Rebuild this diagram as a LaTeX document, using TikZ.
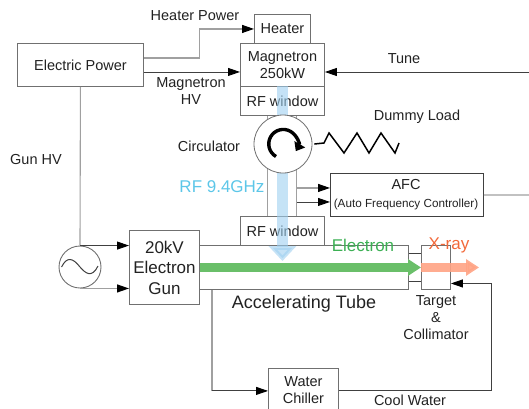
\documentclass[tikz,border=0pt]{standalone}
\usepackage{fontspec}
\setmainfont{Liberation Sans}
\usetikzlibrary{calc,positioning,arrows.meta}
\definecolor{boxgray}{HTML}{707070}
\definecolor{linegray}{HTML}{A0A0A0}
\definecolor{linedark}{HTML}{404040}
\definecolor{textdark}{HTML}{222222}
\definecolor{rfblue}{HTML}{9FD0F0}
\definecolor{rflabel}{HTML}{5CC6E8}
\definecolor{beamgreen}{HTML}{6ABF69}
\definecolor{elabel}{HTML}{3CB054}
\definecolor{raycoral}{HTML}{FFA384}
\definecolor{raylabel}{HTML}{F2693A}
\tikzset{
  block/.style={
    draw=boxgray,
    line width=0.9pt,
    fill=white,
    inner sep=0pt,
    align=center,
    anchor=north west,
    text=textdark,
    font=\fontsize{14.5}{17}\selectfont
  },
  lbl/.style={
    inner sep=0pt,
    align=center,
    text=textdark,
    font=\fontsize{14.5}{17}\selectfont
  },
  darkline/.style={draw=linedark,line width=0.9pt},
  grayline/.style={draw=linegray,line width=1.1pt},
  tip/.style={-{Triangle[length=12pt,width=8pt,color=black]}},
  beam/.style={line width=9pt,-{Triangle[length=13pt,width=16pt]}}
}
\begin{document}
\begin{tikzpicture}[x=1pt,y=-1pt]
		\clip (0,0) rectangle (529,408);
		\node[block,minimum width=126pt,minimum height=43pt] at (17,43) (elecpower) {Electric Power};
		\node[block,minimum width=56pt,minimum height=29pt] at (254,14) (heater) {Heater};
		\node[block,minimum width=84pt,minimum height=43pt] at (240,43) (magnetron) {Magnetron\\ 250kW};
		\node[block,minimum width=84pt,minimum height=29pt] at (240,86) (rfwinup) {RF window};
		\node[block,minimum width=84pt,minimum height=29pt] at (240,216) (rfwinlow) {RF window};
		\node[block,minimum width=209pt,minimum height=44pt] at (199,245) (tube) {};
		\node[block,minimum width=70pt,minimum height=74pt,font=\fontsize{17}{20.5}\selectfont] at (129,230) (gun) {20kV\\ Electron\\ Gun};
		\node[block,minimum width=29pt,minimum height=44pt] at (421,245) (target) {};
		\node[block,draw=linedark,minimum width=153pt,minimum height=43pt] at (330,173) (afc) {};
		\node[inner sep=0pt,text=textdark,font=\fontsize{14.5}{17}\selectfont] at (406,185) (afcname) {AFC};
		\node[inner sep=0pt,text=textdark,font=\fontsize{11.7}{14}\selectfont] at (406,204) (afclong) {(Auto Frequency Controller)};
		\node[block,minimum width=70pt,minimum height=44pt] at (268,368) (chiller) {Water\\ Chiller};
		\node[draw=boxgray,line width=0.9pt,circle,fill=white,minimum size=42pt,inner sep=0pt] at (80,267) (acsrc) {};

		\foreach \x in {-15,14} {
			\draw[grayline] ($(rfwinlow.north)+(\x,0)$) -- ($(rfwinup.south)+(\x,0)$);
		};
		\draw[rfblue,line width=11pt,opacity=0.6,-{Triangle[length=15pt,width=27pt]}] (rfwinup.north) -- ++(0,175) coordinate (rfend);
		\node[draw=boxgray,line width=0.8pt,circle,fill=white,minimum size=58pt,inner sep=0pt] at (283,144) (circ) {};
		\draw[black,line width=3.4pt,-{Triangle[length=8pt,width=12pt]}] ($(circ)+(-7,12.5)$) arc[start angle=120,end angle=390,radius=14.5];

		\draw[beamgreen,beam] (gun.east) -- (target.west);
		\draw[raycoral,opacity=0.9,beam] (target.west) -- ++(58,0) coordinate (rayend);

		\draw[grayline,tip] ($(elecpower.east)+(0,-7)$) -- ++(56,0) |- (heater.west);
		\draw[darkline,tip] ($(elecpower.east)+(0,7)$) -- ($(magnetron.west)+(0,7)$);
		\coordinate (tunein) at (529,72);
		\draw[darkline,tip] (tunein) -- (tunein -| magnetron.east);
		\draw[grayline] (elecpower.south) -- (acsrc.north);
		\draw[darkline,tip] (acsrc.north) -- (acsrc.north -| gun.west);
		\draw[grayline,tip] (acsrc.south) -- (acsrc.south -| gun.west);
		\draw[darkline,line width=1pt] (acsrc.west) ++(3,0) .. controls (67,256) and (73,258) .. (80,267) .. controls (86,274) and (92,278) .. (98,266);
		\foreach \y/\s in {-7/grayline,7/darkline} {
			\draw[\s,tip] ($(afc.west)+(-33,\y)$) -- ($(afc.west)+(0,\y)$);
		};
		\coordinate (afcout) at (529,195);
		\draw[grayline] (afc.east) -- (afcout);
		\foreach \y in {-14,14} {
			\draw[darkline] ($(tube.east)+(0,\y)$) -- ($(target.west)+(0,\y)$);
		};
		\draw[grayline] ($(tube.south west)+(13,0)$) -- ++(0,101) coordinate (chillerin);
		\draw[darkline,tip] (chillerin) -- (chillerin -| chiller.west);
		\draw[darkline,tip] (chiller.east) -- ++(153,0) |- ($(target.east)+(0,16)$);

		\draw[black,line width=1.5pt] ($(circ.east)+(2,0)$) -- (324,143) -- (329,133) -- (344,153) -- (357,133) -- (369,153) -- (381,133) -- (395,153) -- (399,143);

		\node[lbl] at (195,16) (heaterpw) {Heater Power};
		\node[lbl] at (191,91) (maghv) {Magnetron\\ HV};
		\node[lbl] at (404,59) (tune) {Tune};
		\node[lbl] at (417,117) (dummy) {Dummy Load};
		\node[lbl] at (209,146) (circlbl) {Circulator};
		\node[lbl] at (36,160) (gunhv) {Gun HV};
		\node[lbl,text=rflabel,font=\fontsize{17}{20}\selectfont] at (222,187) (rflbl) {RF 9.4GHz};
		\node[lbl,text=elabel,font=\fontsize{17}{20}\selectfont] at (363,245) (electron) {Electron};
		\node[lbl,text=raylabel,font=\fontsize{17}{20}\selectfont] at (449,245) (xray) {X-ray};
		\node[lbl,font=\fontsize{18}{20}\selectfont] at (304,304) (tubelbl) {Accelerating Tube};
		\node[lbl] at (436,318) (targetlbl) {Target\\ \&\\ Collimator};
		\node[lbl] at (410,400) (coolwater) {Cool Water};
\end{tikzpicture}
\end{document}
